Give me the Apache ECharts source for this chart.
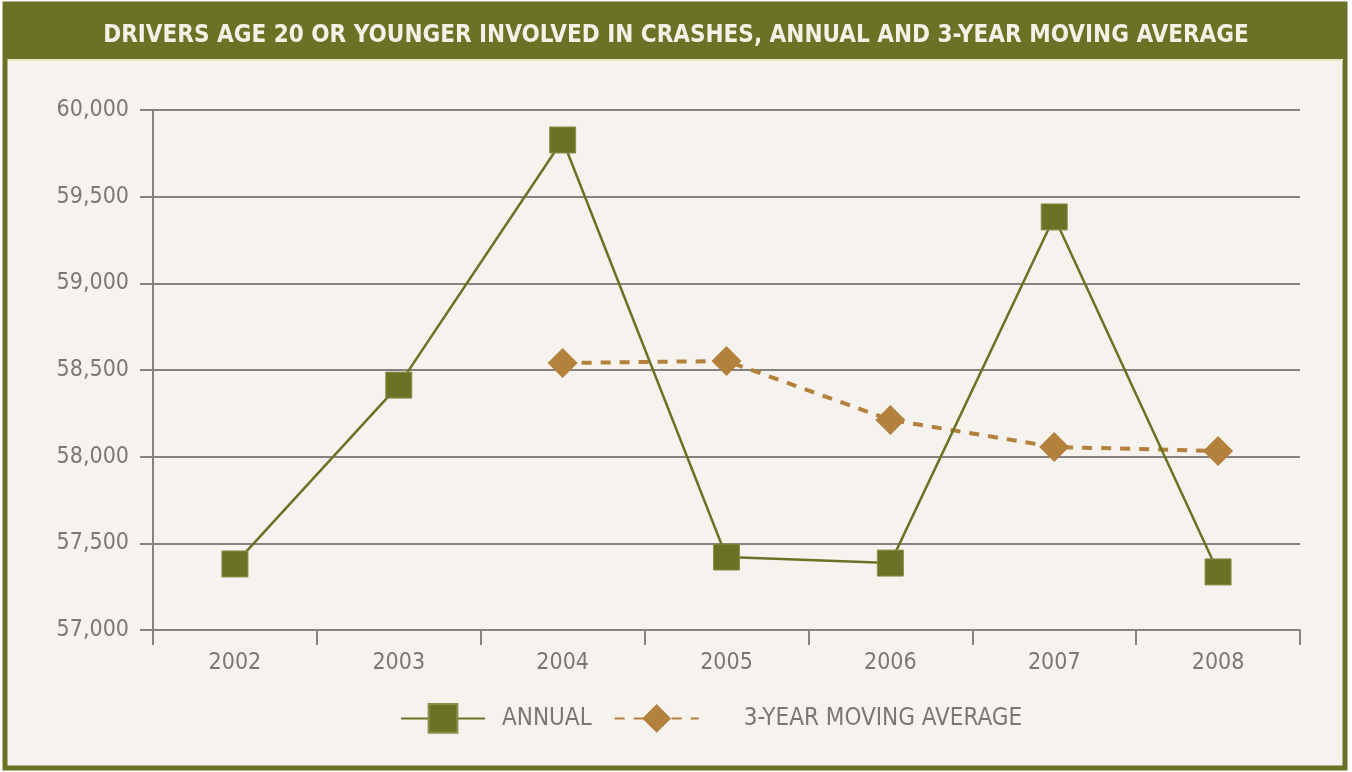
<!DOCTYPE html>
<html>
<head>
<meta charset="utf-8">
<script src="https://cdn.jsdelivr.net/npm/echarts@6/dist/echarts.min.js"></script>
<style>
  html, body { margin: 0; padding: 0; background: #ffffff; }
  #chart { width: 1352px; height: 772px; }
</style>
</head>
<body>
<div id="chart"></div>
<script>
// data
const years = ['2002', '2003', '2004', '2005', '2006', '2007', '2008'];
const annual = [57381, 58413, 59827, 57421, 57386, 59383, 57335];
const movingAvg = [null, null, 58540, 58552, 58212, 58056, 58033];
const titleText = 'DRIVERS AGE 20 OR YOUNGER INVOLVED IN CRASHES, ANNUAL AND 3-YEAR MOVING AVERAGE';

const olive = '#6b7226';
const tan = '#b3813c';
const gridGray = '#858280';
const labelGray = '#7a7876';
const font = '"DejaVu Sans Condensed", "Liberation Sans", Arial, sans-serif';

const chart = echarts.init(document.getElementById('chart'), null, { renderer: 'canvas' });

const option = {
    animation: false,
    backgroundColor: '#ffffff',
    graphic: [
        {
            // outer frame
            type: 'rect',
            z: -10,
            shape: { x: 5, y: 4, width: 1340, height: 764 },
            style: { fill: '#f6f2ee', stroke: olive, lineWidth: 5 }
        },
        {
            // title band
            type: 'rect',
            z: -9,
            shape: { x: 3, y: 2, width: 1344, height: 57 },
            style: { fill: olive }
        },
        {
            type: 'rect',
            z: -9,
            shape: { x: 8, y: 59, width: 1335, height: 2 },
            style: { fill: '#e9e4c8' }
        }
    ],
    title: {
        text: titleText,
        left: 'center',
        top: 19,
        textStyle: {
            color: '#f4f1e6',
            fontFamily: font,
            fontWeight: 'bold',
            fontSize: 24
        }
    },
    legend: {
        top: 698,
        left: 395,
        itemWidth: 84,
        itemHeight: 36,
        itemGap: 22,
        textStyle: {
            color: labelGray,
            fontFamily: font,
            fontSize: 24,
            padding: [0, 0, 0, 12]
        },
        data: [
            'ANNUAL',
            { name: '3-YEAR MOVING AVERAGE', textStyle: { padding: [0, 0, 0, 40] } }
        ]
    },
    grid: {
        left: 153,
        right: 52,
        top: 110,
        bottom: 142
    },
    xAxis: {
        type: 'category',
        data: years,
        boundaryGap: true,
        axisLine: { lineStyle: { color: gridGray, width: 2 } },
        axisTick: { show: true, length: 15, lineStyle: { color: gridGray, width: 2 } },
        axisLabel: {
            color: labelGray,
            fontFamily: font,
            fontSize: 23,
            margin: 22
        }
    },
    yAxis: {
        type: 'value',
        min: 57000,
        max: 60000,
        interval: 500,
        axisLine: { show: true, lineStyle: { color: gridGray, width: 2 } },
        axisTick: { show: true, length: 13, lineStyle: { color: gridGray, width: 2 } },
        splitLine: { lineStyle: { color: gridGray, width: 2 } },
        axisLabel: {
            color: labelGray,
            fontFamily: font,
            fontSize: 23,
            margin: 24,
            formatter: v => v.toLocaleString('en-US')
        }
    },
    series: [
        {
            name: 'ANNUAL',
            type: 'line',
            data: annual,
            symbol: 'rect',
            symbolSize: 26,
            lineStyle: { color: olive, width: 2.5 },
            itemStyle: { color: olive, borderColor: '#8a8f4a', borderWidth: 1 },
            z: 3
        },
        {
            name: '3-YEAR MOVING AVERAGE',
            type: 'line',
            data: movingAvg,
            symbol: 'diamond',
            symbolSize: [30, 30],
            lineStyle: { color: tan, width: 4, type: [10, 9] },
            itemStyle: { color: tan },
            z: 2
        }
    ]
};

chart.setOption(option);
</script>
</body>
</html>
